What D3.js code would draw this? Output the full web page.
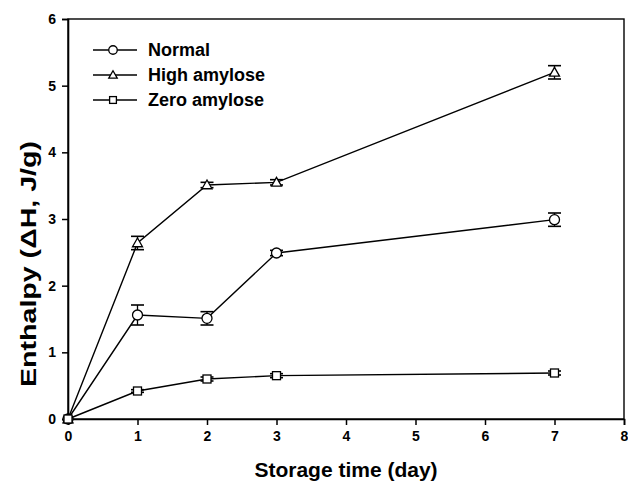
<!DOCTYPE html>
<html>
<head>
<meta charset="utf-8">
<script src="https://cdn.jsdelivr.net/npm/d3@7"></script>
<style>
  html, body { margin: 0; padding: 0; background: #fff; }
  svg text { font-family: "Liberation Sans", Arial, sans-serif; font-weight: bold; fill: #000; }
</style>
</head>
<body>
<svg id="chart" width="628" height="488"></svg>
<script>
// Storage days sampled
const days = [0, 1, 2, 3, 7];

// Enthalpy means (J/g) and standard errors for each starch type
const normalMean = [0, 1.56, 1.51, 2.49, 2.99];
const normalErr  = [0, 0.15, 0.10, 0.04, 0.10];
const highMean   = [0, 2.64, 3.51, 3.55, 5.20];
const highErr    = [0, 0.10, 0.04, 0.04, 0.10];
const zeroMean   = [0, 0.42, 0.60, 0.65, 0.69];
const zeroErr    = [0, 0.02, 0.03, 0.03, 0.03];

const seriesNames = ["Normal", "High amylose", "Zero amylose"];
const seriesSymbols = ["circle", "triangle", "square"];

const xTicks = [0, 1, 2, 3, 4, 5, 6, 7, 8];
const yTicks = [0, 1, 2, 3, 4, 5, 6];

const series = [
  { name: seriesNames[0], symbol: seriesSymbols[0], mean: normalMean, err: normalErr },
  { name: seriesNames[1], symbol: seriesSymbols[1], mean: highMean, err: highErr },
  { name: seriesNames[2], symbol: seriesSymbols[2], mean: zeroMean, err: zeroErr }
];

const svg = d3.select("#chart");
const margin = { left: 68, top: 19, right: 4, bottom: 69 };
const W = 628, H = 488;

const x = d3.scaleLinear().domain([0, 8]).range([margin.left, W - margin.right]);
const y = d3.scaleLinear().domain([0, 6]).range([H - margin.bottom, margin.top]);

// Frame
svg.append("rect")
  .attr("x", x(0)).attr("y", y(6))
  .attr("width", x(8) - x(0)).attr("height", y(0) - y(6))
  .attr("fill", "none").attr("stroke", "#000").attr("stroke-width", 1.4);

// Axes
const xAxis = svg.append("g")
  .attr("transform", `translate(0,${y(0)})`)
  .call(d3.axisBottom(x).tickValues(xTicks).tickFormat(d3.format("d")).tickSize(6).tickPadding(6));
const yAxis = svg.append("g")
  .attr("transform", `translate(${x(0)},0)`)
  .call(d3.axisLeft(y).tickValues(yTicks).tickFormat(d3.format("d")).tickSize(6).tickPadding(6));

[xAxis, yAxis].forEach(g => {
  g.select(".domain").attr("stroke", "#000").attr("stroke-width", 1.6);
  g.selectAll(".tick line").attr("stroke", "#000").attr("stroke-width", 1.5);
  g.selectAll(".tick text").attr("font-size", 14).attr("font-family", "Liberation Sans, Arial, sans-serif").attr("font-weight", "bold");
});

// Axis titles
svg.append("text")
  .attr("x", (x(0) + x(8)) / 2).attr("y", 477)
  .attr("text-anchor", "middle").attr("font-size", 21)
  .text("Storage time (day)");

svg.append("text")
  .attr("transform", `translate(36,264) rotate(-90)`)
  .attr("text-anchor", "middle").attr("font-size", 22)
  .attr("textLength", 246).attr("lengthAdjust", "spacingAndGlyphs")
  .text("Enthalpy (\u0394H, J/g)");

// Marker drawing helper
function drawMarker(g, symbol, cx, cy, k) {
  k = k || 1;
  if (symbol === "circle") {
    g.append("circle").attr("cx", cx).attr("cy", cy).attr("r", 5 * k)
      .attr("fill", "#fff").attr("stroke", "#000").attr("stroke-width", 1.3);
  } else if (symbol === "triangle") {
    const s = 5 * k;
    g.append("path")
      .attr("d", `M${cx},${cy - s} L${cx + s},${cy + s * 0.75} L${cx - s},${cy + s * 0.75} Z`)
      .attr("fill", "#fff").attr("stroke", "#000").attr("stroke-width", 1.3);
  } else {
    const s = 4 * k;
    g.append("rect").attr("x", cx - s).attr("y", cy - s).attr("width", 2 * s).attr("height", 2 * s)
      .attr("fill", "#fff").attr("stroke", "#000").attr("stroke-width", 1.3);
  }
}

const line = d3.line().x((d, i) => x(days[i])).y(d => y(d));

series.forEach(s => {
  const g = svg.append("g");
  g.append("path").attr("d", line(s.mean))
    .attr("fill", "none").attr("stroke", "#000").attr("stroke-width", 1.4);
  // Error bars
  s.mean.forEach((m, i) => {
    const e = s.err[i];
    if (e <= 0) return;
    const cx = x(days[i]);
    g.append("line").attr("x1", cx).attr("x2", cx).attr("y1", y(m - e)).attr("y2", y(m + e))
      .attr("stroke", "#000").attr("stroke-width", 1.3);
    [m - e, m + e].forEach(v => {
      g.append("line").attr("x1", cx - 6.5).attr("x2", cx + 6.5).attr("y1", y(v)).attr("y2", y(v))
        .attr("stroke", "#000").attr("stroke-width", 1.6);
    });
  });
  s.mean.forEach((m, i) => drawMarker(g, s.symbol, x(days[i]), y(m)));
});

// Legend
const legend = svg.append("g");
series.forEach((s, i) => {
  const ly = 50 + i * 25;
  legend.append("line").attr("x1", 93).attr("x2", 137).attr("y1", ly).attr("y2", ly)
    .attr("stroke", "#000").attr("stroke-width", 1.4);
  drawMarker(legend, s.symbol, 113, ly, 0.85);
  legend.append("text").attr("x", 148).attr("y", ly).attr("dy", "0.35em")
    .attr("font-size", 18).text(s.name);
});
</script>
</body>
</html>
